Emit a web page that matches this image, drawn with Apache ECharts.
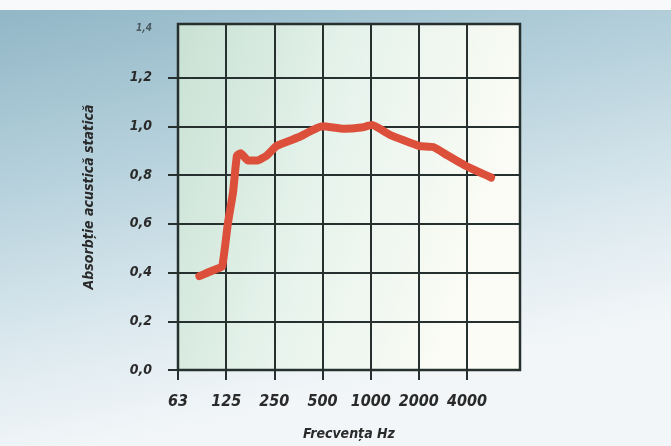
<!DOCTYPE html>
<html><head><meta charset="utf-8">
<script src="https://cdn.jsdelivr.net/npm/echarts@6/dist/echarts.min.js"></script>
<style>html,body{margin:0;padding:0;background:#fff}#c{width:671px;height:446px}</style>
</head><body><div id="c"></div>
<script>
// Frequency (Hz) of each traced point and the matching absorption coefficient
const freqHz = [85, 96, 109, 118, 128, 138, 146, 154, 171, 196, 224, 259, 354, 500, 683, 871, 1020, 1320, 2000, 2460, 3030, 4000, 5660];
const absorption = [0.385, 0.40, 0.415, 0.425, 0.60, 0.73, 0.88, 0.89, 0.86, 0.86, 0.88, 0.92, 0.955, 1.0, 0.99, 0.995, 1.005, 0.965, 0.92, 0.915, 0.88, 0.835, 0.79];
const xTickHz = [62.5, 125, 250, 500, 1000, 2000, 4000];
const xTickLabels = ['63', '125', '250', '500', '1000', '2000', '4000'];
const yGridValues = [0, 0.2, 0.4, 0.6, 0.8, 1.0, 1.2];
const yLabelValues = [0, 0.2, 0.4, 0.6, 0.8, 1.0, 1.2, 1.4];
const xName = 'Frecvența Hz';
const yName = 'Absorbție acustică statică';

const BASE = 62.5;
const oct = f => Math.log2(f / BASE);
const xTicks = xTickHz.map(oct);
const seriesData = freqHz.map((f, i) => [oct(f), absorption[i]]);

const ink = '#26302f';
const font = {fontFamily: '"Liberation Sans Narrow", "DejaVu Sans Condensed", sans-serif', fontWeight: 'bold', fontStyle: 'italic', color: '#2a2a2a'};

const chart = echarts.init(document.getElementById('c'));
chart.setOption({
  animation: false,
  backgroundColor: {type: 'linear', x: 0, y: 0, x2: 0.15, y2: 1, colorStops: [
    {offset: 0, color: '#8fb5c5'}, {offset: 0.4, color: '#b6d1dc'}, {offset: 0.75, color: '#dce9ef'}, {offset: 1, color: '#f2f6f8'}]},
  graphic: [{type: 'rect', shape: {x: 0, y: 0, width: 671, height: 10}, style: {fill: '#f7f9fa'}, z: 100}],
  grid: {left: 178, right: 151, top: 24, bottom: 73, show: true, borderColor: ink, borderWidth: 2.5,
    backgroundColor: {type: 'linear', x: 0, y: 0, x2: 1, y2: 0.3, colorStops: [
      {offset: 0, color: '#c8e1d3'}, {offset: 0.5, color: '#e6f3ec'}, {offset: 1, color: '#fbfcf5'}]}},
  xAxis: [{
    type: 'value', min: 0, max: 7.1, position: 'bottom',
    axisLine: {show: false},
    axisTick: {show: true, customValues: xTicks, length: 10, lineStyle: {color: ink, width: 2}},
    splitLine: {show: true, lineStyle: {color: ink, width: 2}},
    axisLabel: Object.assign({customValues: xTicks, margin: 24, fontSize: 16,
      formatter: v => { let k = 0; xTicks.forEach((t, i) => { if (Math.abs(t - v) < Math.abs(xTicks[k] - v)) k = i; }); return xTickLabels[k]; }}, font),
    name: xName, nameLocation: 'middle', nameGap: 57,
    nameTextStyle: Object.assign({fontSize: 14}, font)
  }, {
    type: 'value', min: 0, max: 7.1, position: 'top',
    axisLine: {show: false},
    axisTick: {show: true, customValues: xTicks, length: 11, lineStyle: {color: ink, width: 2}},
    splitLine: {show: false}, axisLabel: {show: false}
  }],
  yAxis: [{
    type: 'value', min: 0, max: 1.42, position: 'left',
    axisLine: {show: false},
    axisTick: {show: true, customValues: yGridValues, length: 10, lineStyle: {color: ink, width: 2}},
    splitLine: {show: true, lineStyle: {color: ink, width: 2}},
    axisLabel: Object.assign({customValues: yLabelValues, margin: 26, fontSize: 14,
      formatter: v => { const s = v.toFixed(1).replace('.', ','); return v > 1.3 ? '{s|' + s + '}' : s; },
      rich: {s: {fontSize: 10, color: '#4a5a60', fontWeight: 'bold', fontStyle: 'italic', fontFamily: font.fontFamily}}}, font),
    name: yName, nameLocation: 'middle', nameGap: 82, nameRotate: 90,
    nameTextStyle: Object.assign({fontSize: 14}, font)
  }, {
    type: 'value', min: 0, max: 1.42, position: 'right',
    axisLine: {show: false},
    axisTick: {show: true, customValues: yGridValues, length: 10, lineStyle: {color: ink, width: 2}},
    splitLine: {show: false}, axisLabel: {show: false}
  }],
  series: [{
    type: 'line', xAxisIndex: 0, yAxisIndex: 0, data: seriesData, showSymbol: false, smooth: 0.15,
    lineStyle: {color: '#dc4f3b', width: 8, cap: 'round', join: 'round'}, z: 10
  }]
});
</script></body></html>
